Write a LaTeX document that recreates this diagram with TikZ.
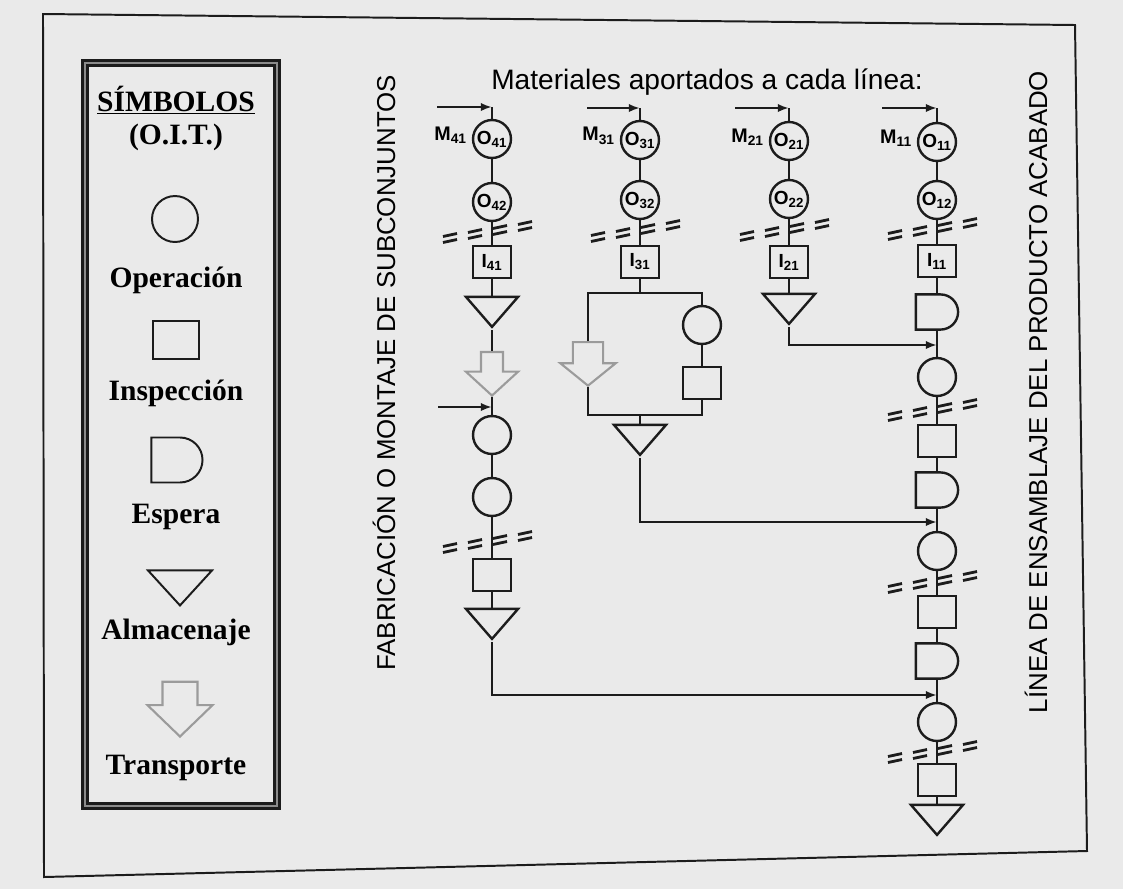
\documentclass[tikz,border=0pt]{standalone}
\usepackage{fontspec}
\setmainfont{Liberation Serif}
\setsansfont{Liberation Sans}
\usepackage{xcolor}
\definecolor{scangray}{HTML}{EAEAEA}
\definecolor{inkblack}{HTML}{1C1C1C}
\definecolor{transpgray}{HTML}{9B9B9B}
\usepackage{tikz}
\usetikzlibrary{
  positioning,
  arrows.meta,
  shapes.geometric,
  shapes.misc,
  shapes.arrows
}

\newcommand{\leyenda}{\rmfamily\bfseries\fontsize{21}{25}\selectfont}
\newcommand{\titulo}{\sffamily\fontsize{20}{24}\selectfont}
\newcommand{\fontvert}{\sffamily\fontsize{18.4}{22}\selectfont}
\newcommand{\etiq}{\sffamily\bfseries\fontsize{13.5}{15}\selectfont}
\newcommand{\mlab}{\sffamily\bfseries\fontsize{14}{16}\selectfont}

% Marca de corte "= = = =" entre fases
\tikzset{
  pics/corte/.style={code={
    \foreach \dx/\dy in {-42/6, -17/2, 8/-2, 33/-6}{
      \draw[inkblack, line width=2pt]
        (\dx-7,\dy-1.5) -- (\dx+7,\dy-4.5)
        (\dx-7,\dy+4.5) -- (\dx+7,\dy+1.5);
    }
  }}
}

\begin{document}
\begin{tikzpicture}[
  x=0.025cm, y=-0.025cm,
  linea/.style={draw=inkblack, line width=1.7pt},
  flecha/.style={linea, -{Latex[length=8pt,width=6pt]}},
  oper/.style={circle, linea, minimum size=27pt, inner sep=0pt},
  insp/.style={rectangle, linea, minimum width=27pt, minimum height=22.8pt, inner sep=0pt},
  espera/.style={rounded rectangle, rounded rectangle left arc=none, linea,
    minimum width=30pt, minimum height=25pt, inner sep=0pt},
  almacen/.style={isosceles triangle, isosceles triangle stretches,
    shape border rotate=270, linea, minimum width=37pt, minimum height=21.3pt,
    inner sep=0pt, anchor=apex},
  transp/.style={single arrow, draw=transpgray, line width=1.5pt,
    shape border rotate=270, inner sep=7.1pt, single arrow head extend=10.7pt,
    single arrow tip angle=95, minimum height=31pt, anchor=tip}
]
% Fondo y marco
\fill[scangray] (0,0) rectangle (1123,889);
\draw[inkblack, line width=1.4pt] (43,14) -- (1075,25) -- (1087,851) -- (44,877) -- cycle;

% Leyenda
\draw[draw=inkblack, double=black!45, double distance=2.1pt, line width=1.6pt]
  (85,63) rectangle (277,806);
\node[font=\leyenda] (tsim) at (176,100) {\underline{SÍMBOLOS}};
\node[font=\leyenda] (toit) at (176,137) {(O.I.T.)};
\node[oper, line width=1.4pt, minimum size=32.7pt] (lop) at (175,219) {};
\node[font=\leyenda] (tope) at (176,280) {Operación};
\node[insp, line width=1.4pt, minimum width=32.7pt, minimum height=27pt] (lins) at (176,340) {};
\node[font=\leyenda] (tins) at (176,393) {Inspección};
\node[espera, line width=1.4pt, minimum width=36.3pt, minimum height=32pt] (lesp) at (177,460) {};
\node[font=\leyenda] (tesp) at (176,517) {Espera};
\node[almacen, line width=1.4pt, minimum width=45.5pt, minimum height=24.9pt] (lalm) at (180,608) {};
\node[font=\leyenda] (talm) at (176,632) {Almacenaje};
\node[transp, inner sep=11.7pt, single arrow head extend=10.7pt, minimum height=39pt,
  single arrow tip angle=92] (ltra) at (180,738) {};
\node[font=\leyenda] (ttra) at (176,768) {Transporte};

% Titulos
\node[font=\titulo] (tmat) at (707,82) {Materiales aportados a cada línea:};
\node[font=\fontvert, rotate=90] (tfab) at (384,373) {FABRICACIÓN O MONTAJE DE SUBCONJUNTOS};
\node[font=\fontvert, rotate=90] (tlin) at (1036,392) {LÍNEA DE ENSAMBLAJE DEL PRODUCTO ACABADO};

% Linea 4
\coordinate (in41) at (437,107);
\coordinate (top41) at (492,107);
\node[oper, font=\etiq] (o41) at (492,139) {O\textsubscript{41}};
\node[font=\mlab, left=0pt of o41, yshift=3pt] (m41) {M\textsubscript{41}};
\node[oper, font=\etiq] (o42) at (492,202) {O\textsubscript{42}};
\pic at (492,232) {corte};
\node[insp, font=\etiq] (i41) at (492,262) {I\textsubscript{41}};
\node[almacen] (a41) at (492,330) {};
\node[transp] (t41) at (492,397) {};
\coordinate (in42) at (438,407);
\coordinate (top42) at (492,407);
\node[oper] (o43) at (492,435) {};
\node[oper] (o44) at (492,497) {};
\pic at (492,542) {corte};
\node[insp] (i42) at (492,575) {};
\node[almacen] (a42) at (492,642) {};

% Linea 3
\coordinate (in31) at (587,108);
\coordinate (top31) at (640,108);
\node[oper, font=\etiq] (o31) at (640,140) {O\textsubscript{31}};
\node[font=\mlab, left=0pt of o31, yshift=3pt] (m31) {M\textsubscript{31}};
\node[oper, font=\etiq] (o32) at (640,200) {O\textsubscript{32}};
\pic at (640,231) {corte};
\node[insp, font=\etiq] (i31) at (640,262) {I\textsubscript{31}};
\coordinate (b31) at (640,293);
\node[transp, inner sep=10pt, single arrow head extend=8.9pt, single arrow tip angle=102] (t31) at (588,387) {};
\node[oper] (o33) at (702,325) {};
\node[insp] (i32) at (702,383) {};
\coordinate (b32) at (640,415);
\node[almacen] (a31) at (640,458) {};

% Linea 2
\coordinate (in21) at (735,108);
\coordinate (top21) at (789,108);
\node[oper, font=\etiq] (o21) at (789,141) {O\textsubscript{21}};
\node[font=\mlab, left=0pt of o21, yshift=3pt] (m21) {M\textsubscript{21}};
\node[oper, font=\etiq] (o22) at (789,199) {O\textsubscript{22}};
\pic at (789,230) {corte};
\node[insp, font=\etiq] (i21) at (789,262) {I\textsubscript{21}};
\node[almacen] (a21) at (789,327) {};

% Linea 1 (ensamblaje)
\coordinate (in11) at (882,108);
\coordinate (top11) at (937,108);
\node[oper, font=\etiq] (o11) at (937,142) {O\textsubscript{11}};
\node[font=\mlab, left=0pt of o11, yshift=3pt] (m11) {M\textsubscript{11}};
\node[oper, font=\etiq] (o12) at (937,200) {O\textsubscript{12}};
\pic at (937,229) {corte};
\node[insp, font=\etiq] (i11) at (937,261) {I\textsubscript{11}};
\node[espera] (d11) at (937,312) {};
\coordinate (j2) at (937,345);
\node[oper] (o13) at (937,377) {};
\pic at (937,410) {corte};
\node[insp] (i12) at (937,441) {};
\node[espera] (d12) at (937,490) {};
\coordinate (j3) at (937,522);
\node[oper] (o14) at (937,551) {};
\pic at (937,582) {corte};
\node[insp] (i13) at (937,612) {};
\node[espera] (d13) at (937,661) {};
\coordinate (j4) at (937,695);
\node[oper] (o15) at (937,722) {};
\pic at (937,752) {corte};
\node[insp] (i14) at (937,780) {};
\node[almacen] (a11) at (937,838) {};

% Conexiones
\foreach \a/\b in {in41/top41, in42/top42, in31/top31, in21/top21, in11/top11}
  \draw[flecha] (\a) -- (\b);
\foreach \a/\b in {top41/o41, top31/o31, top21/o21, top11/o11}
  \draw[linea] (\a) -- (\b);
\foreach \a/\b in {o41/o42, o42/i41, i41/a41, a41/t41, o43/o44, o44/i42, i42/a42,
                   o31/o32, o32/i31, o33/i32, o21/o22, o22/i21, i21/a21,
                   o11/o12, o12/i11, i11/d11, d11/o13, o13/i12, i12/d12, d12/o14,
                   o14/i13, i13/d13, d13/o15, o15/i14, i14/a11}
  \draw[linea] (\a) -- (\b);
\draw[linea] (t41.tip) -- (o43);
\draw[linea] (i31) -- (b31);
\draw[linea] (t31.tail) |- (b31) -| (o33);
\draw[linea] (t31.tip) |- (b32) -| (i32);
\draw[linea] (b32) -- (a31);
\draw[flecha] (a21.apex) |- (j2);
\draw[flecha] (a31.apex) |- (j3);
\draw[flecha] (a42.apex) |- (j4);

\end{tikzpicture}
\end{document}
